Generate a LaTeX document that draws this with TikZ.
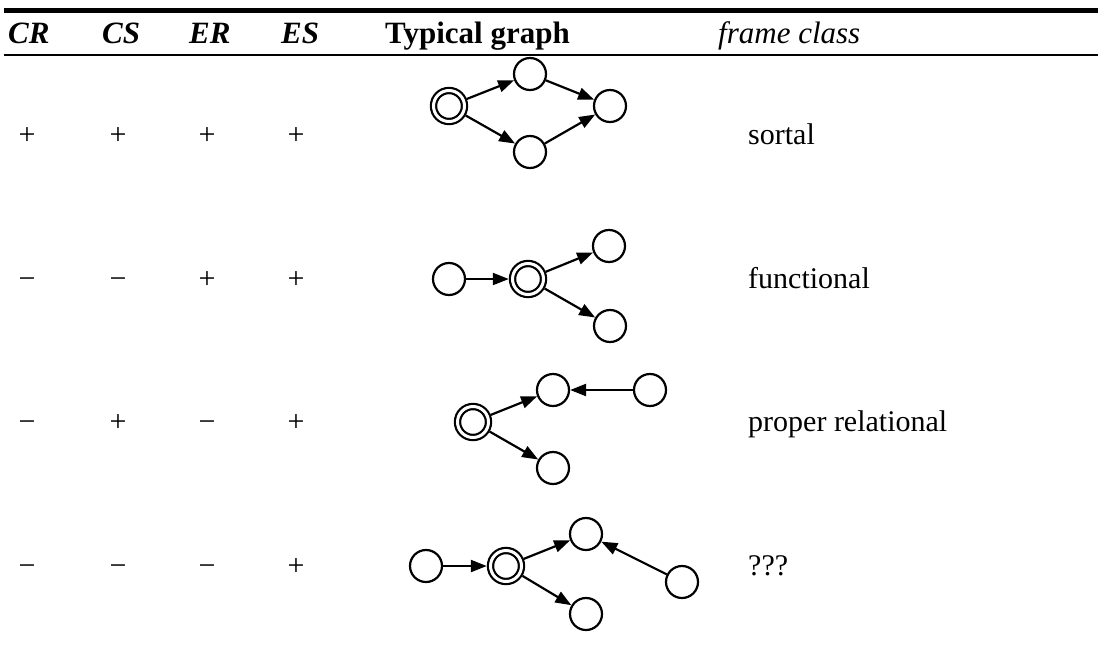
\documentclass[tikz,border=0pt]{standalone}
\usepackage{fontspec}
\setmainfont{Liberation Serif}
\usetikzlibrary{arrows.meta}
\begin{document}
\begin{tikzpicture}[x=1pt,y=-1pt,
  nd/.style={circle,draw,line width=2.2pt,minimum size=32pt,inner sep=0pt},
  dn/.style={circle,draw,line width=2.2pt,double,double distance=3pt,minimum size=31pt,inner sep=0pt,outer sep=3.7pt},
  ar/.style={line width=2.2pt,-{Triangle[length=16pt,width=12pt]}},
  hd/.style={anchor=base west,inner sep=0pt,font=\fontsize{31}{36}\selectfont\bfseries\itshape},
  hb/.style={anchor=base west,inner sep=0pt,font=\fontsize{31}{36}\selectfont\bfseries},
  hi/.style={anchor=base west,inner sep=0pt,font=\fontsize{31}{36}\selectfont\itshape},
  tx/.style={anchor=base west,inner sep=0pt,font=\fontsize{30}{36}\selectfont},
  sg/.style={anchor=base,inner sep=0pt,font=\fontsize{30}{36}\selectfont}
]
\useasboundingbox (0,0) rectangle (1098,654);
% rules
\coordinate (r1a) at (4,10); \coordinate (r1b) at (1098,10);
\coordinate (r2a) at (4,55); \coordinate (r2b) at (1098,55);
\draw[line width=5pt] (r1a) -- (r1b);
\draw[line width=2pt] (r2a) -- (r2b);
% header
\node[hd] (hCR) at (8,43) {CR};
\node[hd] (hCS) at (102,43) {CS};
\node[hd] (hER) at (189,43) {ER};
\node[hd] (hES) at (281,43) {ES};
\node[hb] (hTG) at (385,43) {Typical graph};
\node[hi] (hFC) at (718,43) {frame class};
% row signs
\foreach \r/\y/\a/\b/\c/\d in {1/144/+/+/+/+, 2/288/−/−/+/+, 3/431/−/+/−/+, 4/575/−/−/−/+}{
  \node[sg] (s\r a) at (27,\y) {\a};
  \node[sg] (s\r b) at (118,\y) {\b};
  \node[sg] (s\r c) at (207,\y) {\c};
  \node[sg] (s\r d) at (296,\y) {\d};
}
\node[tx] (fc1) at (748,144) {sortal};
\node[tx] (fc2) at (748,288) {functional};
\node[tx] (fc3) at (748,431) {proper relational};
\node[tx] (fc4) at (748,575) {???};
% graph 1
\node[dn] (g1d) at (449,106) {};
\node[nd] (g1t) at (530,74) {};
\node[nd] (g1r) at (610,106) {};
\node[nd] (g1b) at (530,152) {};
\draw[ar] (g1d) -- (g1t);
\draw[ar] (g1d) -- (g1b);
\draw[ar] (g1t) -- (g1r);
\draw[ar] (g1b) -- (g1r);
% graph 2
\node[nd] (g2l) at (449,279) {};
\node[dn] (g2d) at (528,279) {};
\node[nd] (g2t) at (609,246) {};
\node[nd] (g2b) at (610,326) {};
\draw[ar] (g2l) -- (g2d);
\draw[ar] (g2d) -- (g2t);
\draw[ar] (g2d) -- (g2b);
% graph 3
\node[dn] (g3d) at (473,422) {};
\node[nd] (g3t) at (553,390) {};
\node[nd] (g3r) at (650,390) {};
\node[nd] (g3b) at (553,468) {};
\draw[ar] (g3d) -- (g3t);
\draw[ar] (g3d) -- (g3b);
\draw[ar] (g3r) -- (g3t);
% graph 4
\node[nd] (g4l) at (426,566) {};
\node[dn] (g4d) at (506,566) {};
\node[nd] (g4t) at (586,534) {};
\node[nd] (g4r) at (682,582) {};
\node[nd] (g4b) at (586,614) {};
\draw[ar] (g4l) -- (g4d);
\draw[ar] (g4d) -- (g4t);
\draw[ar] (g4d) -- (g4b);
\draw[ar] (g4r) -- (g4t);
\end{tikzpicture}
\end{document}
